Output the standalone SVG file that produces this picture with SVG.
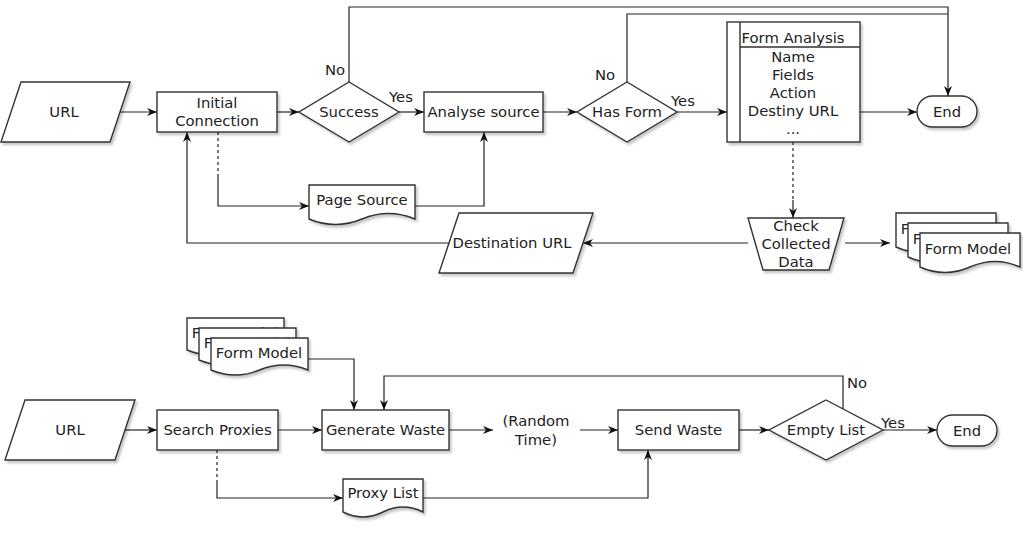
<svg xmlns="http://www.w3.org/2000/svg" width="1023" height="540" viewBox="0 0 1023 540">
<style>
text{font-family:"DejaVu Sans","Liberation Sans",sans-serif;font-size:14.8px;fill:#222;text-anchor:middle;dominant-baseline:central}
.s{fill:#fff;stroke:#333;stroke-width:1.4}
.c{fill:none;stroke:#222;stroke-width:1.2}
.d{stroke-dasharray:3 3}
.a{marker-end:url(#ar)}
.sh{filter:url(#shd)}
</style>
<defs>
<marker id="ar" viewBox="0 0 10 8" refX="10" refY="4" markerWidth="10" markerHeight="8" markerUnits="userSpaceOnUse" orient="auto">
<path d="M0,0 L10,4 L0,8 L3,4 z" fill="#111"/>
</marker>
<filter id="shd" x="-10%" y="-10%" width="130%" height="140%">
<feDropShadow dx="2" dy="2.5" stdDeviation="1.2" flood-color="#000" flood-opacity="0.22"/>
</filter>
</defs>

<g id="connectors">
<path class="c a" d="M120,112 H157"/>
<path class="c a" d="M277,112 H299"/>
<path class="c a" d="M399,112 H424"/>
<path class="c a" d="M543,112 H577"/>
<path class="c a" d="M676,112 H727"/>
<path class="c a" d="M860,112 H917"/>
<path class="c a" d="M349,82 V7 H948 V96"/>
<path class="c" d="M627,82 V14 H948"/>
<path class="c d" d="M218,132 V177"/>
<path class="c a" d="M218,177 V206 H309"/>
<path class="c a" d="M415,206 H484 V132"/>
<path class="c d" d="M793,142 V200"/>
<path class="c a" d="M793,200 V218"/>
<path class="c a" d="M748,243 H583"/>
<path class="c a" d="M845,243 H890"/>
<path class="c a" d="M449,243 H187 V132"/>
<text x="335" y="69">No</text>
<text x="401" y="96">Yes</text>
<text x="605" y="74">No</text>
<text x="683" y="100">Yes</text>

<path class="c a" d="M125,430 H157"/>
<path class="c a" d="M278,430 H322"/>
<path class="c a" d="M449,430 H493"/>
<path class="c a" d="M580,430 H618"/>
<path class="c a" d="M739,430 H769"/>
<path class="c a" d="M883,430 H937"/>
<path class="c a" d="M843,409 V376 H384 V410"/>
<path class="c a" d="M308,359 H354 V410"/>
<path class="c d" d="M217,450 V480"/>
<path class="c a" d="M217,480 V498 H343"/>
<path class="c a" d="M423,498 H648 V450"/>
<text x="857" y="382">No</text>
<text x="893" y="422">Yes</text>
</g>

<g id="url1"><path class="s sh" d="M21,82 H130 L110,142 H1 Z"/><text x="64" y="111">URL</text></g>
<g id="initial-connection"><rect class="s sh" x="157" y="92" width="120" height="40"/><text x="217" y="102">Initial</text><text x="217" y="120">Connection</text></g>
<g id="success"><path class="s sh" d="M349,82 L399,112 L349,142 L299,112 Z"/><text x="349" y="111">Success</text></g>
<g id="analyse-source"><rect class="s sh" x="424" y="92" width="119" height="40"/><text x="483.5" y="111">Analyse source</text></g>
<g id="has-form"><path class="s sh" d="M627,82 L677,112 L627,142 L577,112 Z"/><text x="627" y="111">Has Form</text></g>
<g id="form-analysis">
<rect class="s sh" x="727" y="22" width="133" height="120"/>
<path class="c" d="M740,22 V142 M740,47 H860" style="stroke:#333;stroke-width:1.4"/>
<text x="793" y="37">Form Analysis</text>
<text x="793" y="56">Name</text>
<text x="793" y="74">Fields</text>
<text x="793" y="92">Action</text>
<text x="793" y="110">Destiny URL</text>
<text x="793" y="128">...</text>
</g>
<g id="end1"><rect class="s sh" x="917" y="96" width="60" height="31" rx="15.5"/><text x="947" y="111">End</text></g>
<g id="page-source"><path class="s sh" d="M309,185 H415 V219 Q388.5,208 362,219 Q335.5,230 309,219 Z"/><text x="362" y="199">Page Source</text></g>
<g id="check-collected-data"><path class="s sh" d="M748,218 H844 L829,270 H763 Z"/><text x="796" y="225">Check</text><text x="796" y="243">Collected</text><text x="796" y="261">Data</text></g>
<g id="destination-url"><path class="s sh" d="M459,213 H593 L573,273 H439 Z"/><text x="512" y="242">Destination URL</text></g>
<g id="form-model-1">
<path class="s sh" d="M896,213 H996 V247 Q971,236 946,247 Q921,258 896,247 Z"/><text x="944" y="228">Form Model</text>
<path class="s sh" d="M908,223 H1008 V257 Q983,246 958,257 Q933,268 908,257 Z"/><text x="956" y="238">Form Model</text>
<path class="s sh" d="M920,233 H1020 V267 Q995,256 970,267 Q945,278 920,267 Z"/><text x="968" y="248">Form Model</text>
</g>

<g id="url2"><path class="s sh" d="M25,400 H135 L115,460 H5 Z"/><text x="70" y="429">URL</text></g>
<g id="search-proxies"><rect class="s sh" x="157" y="410" width="121" height="40"/><text x="217.5" y="429">Search Proxies</text></g>
<g id="generate-waste"><rect class="s sh" x="322" y="410" width="127" height="40"/><text x="385.5" y="429">Generate Waste</text></g>
<g id="random-time"><text x="536" y="420">(Random</text><text x="536" y="439">Time)</text></g>
<g id="send-waste"><rect class="s sh" x="618" y="410" width="121" height="40"/><text x="678.5" y="429">Send Waste</text></g>
<g id="empty-list"><path class="s sh" d="M826,400 L883,430 L826,460 L769,430 Z"/><text x="826" y="429">Empty List</text></g>
<g id="end2"><rect class="s sh" x="937" y="415" width="60" height="31" rx="15.5"/><text x="967" y="430">End</text></g>
<g id="form-model-2">
<path class="s sh" d="M187,318 H284 V350 Q259.75,340 235.5,350 Q211.25,360 187,350 Z"/><text x="235" y="332">Form Model</text>
<path class="s sh" d="M199,328 H296 V360 Q271.75,350 247.5,360 Q223.25,370 199,360 Z"/><text x="247" y="342">Form Model</text>
<path class="s sh" d="M211,338 H308 V370 Q283.75,360 259.5,370 Q235.25,380 211,370 Z"/><text x="259" y="352">Form Model</text>
</g>
<g id="proxy-list"><path class="s sh" d="M343,479 H423 V512 Q403,502 383,512 Q363,522 343,512 Z"/><text x="383" y="492">Proxy List</text></g>
</svg>
